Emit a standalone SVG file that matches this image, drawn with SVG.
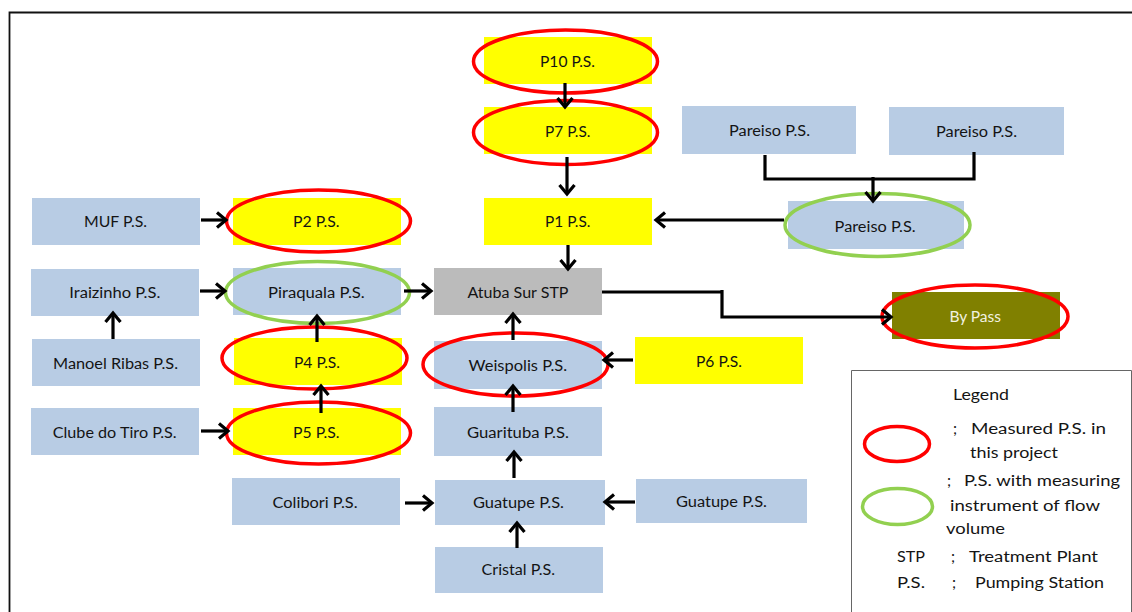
<svg xmlns="http://www.w3.org/2000/svg" width="1132" height="612" viewBox="0 0 1132 612">
<style>
text{font-family:"Lato","Carlito","Open Sans",sans-serif;font-size:15.5px;fill:#141414}
.b{fill:#B8CCE4}.y{fill:#FFFF00}.g{fill:#BBBBBB}.o{fill:#808000}
.r,.v{fill:none;stroke-width:3.500}.r{stroke:#FF0000}.v{stroke:#92D050}
.c{fill:none;stroke:#000;stroke-width:3.200}
.a{marker-end:url(#h)}
.w{fill:#F2F2E0}
</style>
<defs>
<marker id="h" markerUnits="userSpaceOnUse" markerWidth="18" markerHeight="22" viewBox="-12 -11 18 22" refX="0" refY="0" orient="auto">
<path d="M-9,-7.500 L0,0 L-9,7.500" fill="none" stroke="#000" stroke-width="3.200"/>
</marker>
</defs>
<rect width="1132" height="612" fill="#fff"/>
<path id="frame" d="M9.500,612 V12.500 H1132" fill="none" stroke="#111" stroke-width="1.800"/>

<g id="n-muf"><rect class="b" x="32" y="198" width="168" height="47"/><text x="84" y="227" textLength="63" lengthAdjust="spacingAndGlyphs">MUF P.S.</text></g>
<g id="n-p2"><rect class="y" x="233" y="198" width="168" height="47"/><ellipse class="r" cx="318.500" cy="221" rx="92" ry="31"/><text x="293" y="227" textLength="46.600" lengthAdjust="spacingAndGlyphs">P2 P.S.</text></g>
<g id="n-iraizinho"><rect class="b" x="31" y="269" width="168" height="47"/><text x="69.300" y="298" textLength="91" lengthAdjust="spacingAndGlyphs">Iraizinho P.S.</text></g>
<g id="n-piraquala"><rect class="b" x="233" y="268" width="168" height="47"/><ellipse class="v" cx="317.500" cy="292.500" rx="92" ry="31"/><text x="268" y="298" textLength="96.800" lengthAdjust="spacingAndGlyphs">Piraquala P.S.</text></g>
<g id="n-atuba"><rect class="g" x="434" y="268" width="168" height="47"/><text x="467.500" y="298" textLength="101" lengthAdjust="spacingAndGlyphs">Atuba Sur STP</text></g>
<g id="n-p10"><rect class="y" x="484" y="37" width="168" height="47"/><ellipse class="r" cx="565.500" cy="61.500" rx="92" ry="31.500"/><text x="540" y="67" textLength="55" lengthAdjust="spacingAndGlyphs">P10 P.S.</text></g>
<g id="n-p7"><rect class="y" x="484" y="107" width="168" height="47"/><ellipse class="r" cx="565.500" cy="132.500" rx="92" ry="32"/><text x="545" y="137" textLength="45.500" lengthAdjust="spacingAndGlyphs">P7 P.S.</text></g>
<g id="n-p1"><rect class="y" x="484" y="198" width="168" height="47"/><text x="545" y="227" textLength="45.500" lengthAdjust="spacingAndGlyphs">P1 P.S.</text></g>
<g id="n-pareiso1"><rect class="b" x="682" y="106" width="174" height="48"/><text x="729" y="136" textLength="81" lengthAdjust="spacingAndGlyphs">Pareiso P.S.</text></g>
<g id="n-pareiso2"><rect class="b" x="889" y="107" width="175" height="48"/><text x="936" y="137" textLength="81" lengthAdjust="spacingAndGlyphs">Pareiso P.S.</text></g>
<g id="n-pareiso3"><rect class="b" x="788" y="201" width="176" height="48"/><ellipse class="v" cx="877.500" cy="225" rx="92.500" ry="31.500"/><text x="834.600" y="232" textLength="81" lengthAdjust="spacingAndGlyphs">Pareiso P.S.</text></g>
<g id="n-bypass"><rect class="o" x="892" y="292" width="168" height="47"/><ellipse class="r" cx="975" cy="316.500" rx="93" ry="31.500"/><text class="w" x="949.400" y="322" textLength="51.600" lengthAdjust="spacingAndGlyphs">By Pass</text></g>
<g id="n-p6"><rect class="y" x="635" y="337" width="168" height="47"/><text x="696" y="367" textLength="46" lengthAdjust="spacingAndGlyphs">P6 P.S.</text></g>
<g id="n-manoel"><rect class="b" x="32" y="339" width="168" height="47"/><text x="53" y="369" textLength="125" lengthAdjust="spacingAndGlyphs">Manoel Ribas P.S.</text></g>
<g id="n-p4"><rect class="y" x="234" y="338" width="168" height="47"/><ellipse class="r" cx="314.500" cy="358" rx="92.500" ry="31"/><text x="294" y="368" textLength="46" lengthAdjust="spacingAndGlyphs">P4 P.S.</text></g>
<g id="n-weispolis"><rect class="b" x="434" y="341" width="168" height="48"/><ellipse class="r" cx="515.500" cy="364.500" rx="92.500" ry="31.500"/><text x="468.600" y="371" textLength="98.500" lengthAdjust="spacingAndGlyphs">Weispolis P.S.</text></g>
<g id="n-clube"><rect class="b" x="31" y="408" width="168" height="47"/><text x="52.700" y="438" textLength="124" lengthAdjust="spacingAndGlyphs">Clube do Tiro P.S.</text></g>
<g id="n-p5"><rect class="y" x="233" y="408" width="168" height="47"/><ellipse class="r" cx="318.500" cy="433" rx="92" ry="31"/><text x="293" y="438" textLength="46.600" lengthAdjust="spacingAndGlyphs">P5 P.S.</text></g>
<g id="n-guarituba"><rect class="b" x="434" y="407" width="168" height="49"/><text x="467" y="438" textLength="102" lengthAdjust="spacingAndGlyphs">Guarituba P.S.</text></g>
<g id="n-colibori"><rect class="b" x="232" y="478" width="168" height="47"/><text x="272.600" y="508" textLength="85" lengthAdjust="spacingAndGlyphs">Colibori P.S.</text></g>
<g id="n-guatupe"><rect class="b" x="435" y="480" width="170" height="45"/><text x="473" y="508" textLength="91" lengthAdjust="spacingAndGlyphs">Guatupe P.S.</text></g>
<g id="n-guatupe2"><rect class="b" x="636" y="479" width="171" height="44"/><text x="676" y="507" textLength="91" lengthAdjust="spacingAndGlyphs">Guatupe P.S.</text></g>
<g id="n-cristal"><rect class="b" x="435" y="547" width="168" height="46"/><text x="481.600" y="575" textLength="73.500" lengthAdjust="spacingAndGlyphs">Cristal P.S.</text></g>

<g id="connectors">
<path class="c a" d="M201,220 H226"/>
<path class="c a" d="M200,291 H225"/>
<path class="c a" d="M404,291 H431"/>
<path class="c a" d="M113,339 V313"/>
<path class="c a" d="M317,342 V316"/>
<path class="c a" d="M321,413 V386"/>
<path class="c a" d="M201,431 H228"/>
<path class="c a" d="M405,503 H432"/>
<path class="c a" d="M517,548 V523"/>
<path class="c a" d="M514,478 V452"/>
<path class="c a" d="M513,412 V386"/>
<path class="c a" d="M513,340 V314"/>
<path class="c a" d="M633,360 H604"/>
<path class="c a" d="M635,502 H605"/>
<path class="c a" d="M565,83 V107"/>
<path class="c a" d="M567,157 V194"/>
<path class="c a" d="M568,245 V269"/>
<path class="c a" d="M784,220 H656"/>
<path class="c" d="M765,155 V179 H974 V152"/>
<path class="c a" d="M873,177 V201"/>
<path class="c" d="M602,292 H722"/>
<path class="c a" d="M722,290 V317 H891"/>
</g>

<g id="legend">
<path d="M1131.500,612 V370.500 H851.500 V612" fill="none" stroke="#666" stroke-width="1"/>
<ellipse class="r" cx="897" cy="444" rx="32.500" ry="17.500"/>
<ellipse class="v" cx="897.500" cy="506.500" rx="35" ry="18"/>
<text x="953" y="400" textLength="56" lengthAdjust="spacingAndGlyphs">Legend</text>
<text x="953" y="434">;</text><text x="971" y="434" textLength="135" lengthAdjust="spacingAndGlyphs">Measured P.S.  in</text>
<text x="970" y="458" textLength="88" lengthAdjust="spacingAndGlyphs">this project</text>
<text x="947" y="486">;</text><text x="964" y="486" textLength="156" lengthAdjust="spacingAndGlyphs">P.S. with measuring</text>
<text x="950" y="511" textLength="150" lengthAdjust="spacingAndGlyphs">instrument  of flow</text>
<text x="946" y="534" textLength="59" lengthAdjust="spacingAndGlyphs">volume</text>
<text x="897" y="562" textLength="28" lengthAdjust="spacingAndGlyphs">STP</text><text x="951" y="562">;</text><text x="969" y="562" textLength="129" lengthAdjust="spacingAndGlyphs">Treatment Plant</text>
<text x="897" y="588" textLength="28" lengthAdjust="spacingAndGlyphs">P.S.</text><text x="952" y="588">;</text><text x="975" y="588" textLength="129" lengthAdjust="spacingAndGlyphs">Pumping Station</text>
</g>
</svg>
